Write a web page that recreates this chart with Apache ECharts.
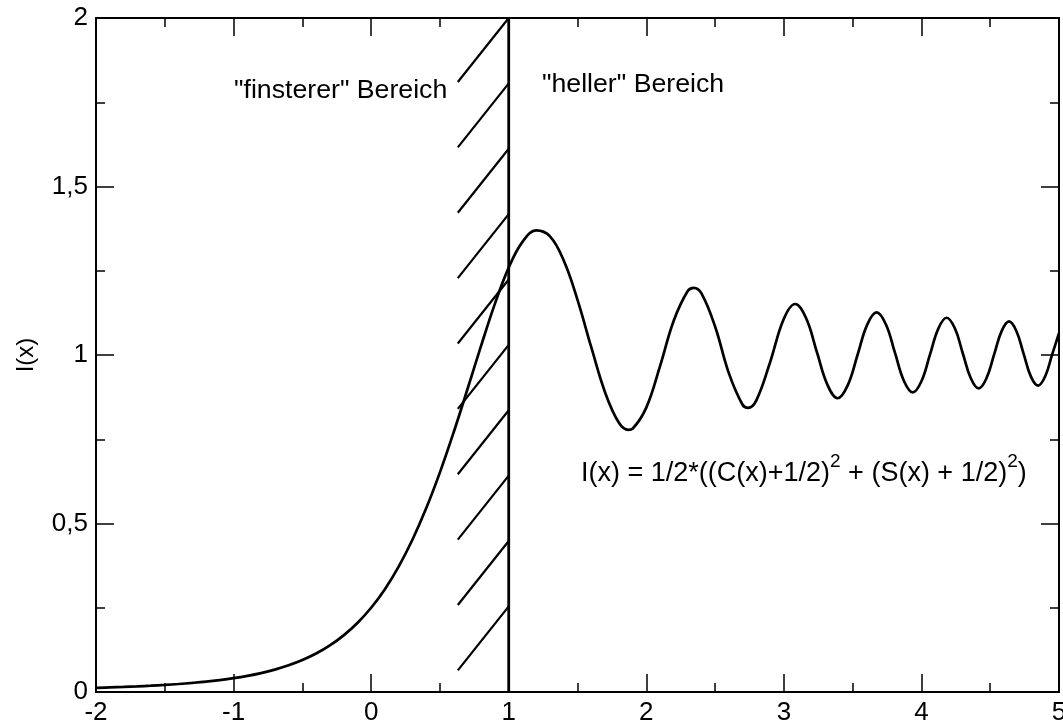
<!DOCTYPE html>
<html>
<head>
<meta charset="utf-8">
<script src="https://cdn.jsdelivr.net/npm/echarts@6/dist/echarts.min.js"></script>
<style>
  html, body { margin: 0; padding: 0; background: #fff; }
  #chart { width: 1063px; height: 725px; }
</style>
</head>
<body>
<div id="chart"></div>
<script>
  // Intensitaet I(x)
  const xValues = [
    -2.0, -1.9, -1.8, -1.7, -1.6, -1.5, -1.4, -1.3, -1.2, -1.1,
    -1.0, -0.9, -0.8, -0.7, -0.6, -0.5, -0.4, -0.3, -0.2, -0.1,
    0.0, 0.1, 0.2, 0.3, 0.4, 0.5, 0.6, 0.7, 0.8, 0.9,
    1.0, 1.1, 1.2, 1.3, 1.4, 1.5, 1.6, 1.7, 1.8, 1.87, 1.9,
    2.0, 2.1, 2.2, 2.3, 2.345, 2.4, 2.5, 2.6, 2.7, 2.74, 2.8, 2.9,
    3.0, 3.082, 3.162, 3.240, 3.317, 3.391, 3.464, 3.536, 3.606, 3.674,
    3.742, 3.808, 3.873, 3.937, 4.0, 4.062, 4.123, 4.183, 4.243, 4.301,
    4.359, 4.416, 4.472, 4.528, 4.583, 4.637, 4.690, 4.743, 4.796, 4.848,
    4.899, 4.950, 5.0
  ];
  const intensity = [
    0.0123, 0.0136, 0.0150, 0.0167, 0.0187, 0.0210, 0.0237, 0.0270, 0.0308, 0.0355,
    0.0411, 0.0479, 0.0562, 0.0665, 0.0791, 0.0948, 0.1141, 0.1382, 0.1680, 0.2048,
    0.25, 0.3052, 0.3721, 0.4517, 0.5450, 0.6518, 0.7708, 0.8983, 1.0283, 1.1525,
    1.2593, 1.3358, 1.3696, 1.3519, 1.2803, 1.1638, 1.0231, 0.8897, 0.7996, 0.7781, 0.7813,
    0.8439, 0.9671, 1.1023, 1.1892, 1.1993, 1.1834, 1.0846, 0.9463, 0.8523, 0.8432, 0.8654, 0.9786,
    1.1077, 1.1514, 1.1089, 1.0090, 0.9114, 0.8717, 0.9099, 1.0008, 1.0900, 1.1263,
    1.0906, 1.0061, 0.9229, 0.8889, 0.9220, 1.0009, 1.0787, 1.1105, 1.0792, 1.0045,
    0.9309, 0.9007, 0.9302, 1.0009, 1.0708, 1.0995, 1.0712, 1.0036, 0.9358, 0.9093,
    0.9363, 1.0009, 1.0649
  ];

  // Kante bei x = 1 und Schraffur links davon
  const edgeX = 1;
  const hatchLeftX = 0.63;
  const hatchRise = 0.19;
  const hatchTopY = [2.0, 1.806, 1.612, 1.418, 1.224, 1.03, 0.836, 0.642, 0.448, 0.254];

  const xTicks = [-2, -1, 0, 1, 2, 3, 4, 5];
  const yTicks = [0, 0.5, 1, 1.5, 2];

  const font = "'Liberation Sans', Arial, sans-serif";
  const black = '#000';

  let chartDom = document.getElementById('chart');
  let myChart = echarts.init(chartDom);

  function axisBase(extra) {
    return Object.assign({
      type: 'value',
      axisLine: { show: true, onZero: false, lineStyle: { color: black, width: 2 } },
      axisTick: { show: true, inside: true, length: 18, lineStyle: { color: black, width: 1.5 } },
      minorTick: { show: true, splitNumber: 2, length: 9, lineStyle: { color: black, width: 1.5 } },
      splitLine: { show: false }
    }, extra);
  }

  let curve = xValues.map((x, i) => [x, intensity[i]]);

  let hatchSeries = hatchTopY.map(y => ({
    type: 'line',
    data: [[hatchLeftX, y - hatchRise], [edgeX, y]],
    showSymbol: false,
    silent: true,
    lineStyle: { color: black, width: 2.2 },
    z: 2
  }));

  let option = {
    animation: false,
    backgroundColor: '#fff',
    grid: { left: 96, right: 4, top: 18, bottom: 33, outerBoundsMode: 'none' },
    xAxis: [
      axisBase({
        min: xTicks[0], max: xTicks[xTicks.length - 1], interval: 1,
        position: 'bottom',
        axisLabel: { color: black, fontSize: 26, fontFamily: font, margin: 8 }
      }),
      axisBase({
        min: xTicks[0], max: xTicks[xTicks.length - 1], interval: 1,
        position: 'top',
        axisLabel: { show: false }
      })
    ],
    yAxis: [
      axisBase({
        min: yTicks[0], max: yTicks[yTicks.length - 1], interval: 0.5,
        position: 'left',
        name: 'I(x)',
        nameLocation: 'middle',
        nameGap: 58,
        nameTextStyle: { color: black, fontSize: 24, fontFamily: font },
        axisLabel: {
          color: black, fontSize: 26, fontFamily: font, margin: 8,
          formatter: v => String(v).replace('.', ',')
        }
      }),
      axisBase({
        min: yTicks[0], max: yTicks[yTicks.length - 1], interval: 0.5,
        position: 'right',
        axisLabel: { show: false }
      })
    ],
    series: [
      {
        type: 'line',
        data: curve,
        smooth: 0.4,
        showSymbol: false,
        silent: true,
        lineStyle: { color: black, width: 2.7 },
        z: 3
      },
      {
        type: 'line',
        data: [[edgeX, yTicks[0]], [edgeX, yTicks[yTicks.length - 1]]],
        showSymbol: false,
        silent: true,
        lineStyle: { color: black, width: 2.8 },
        z: 4
      }
    ].concat(hatchSeries),
    graphic: [
      {
        type: 'text', x: 234, y: 91,
        style: { text: '"finsterer" Bereich', fill: black, fontSize: 26.7, fontFamily: font, verticalAlign: 'middle' }
      },
      {
        type: 'text', x: 542, y: 85,
        style: { text: '"heller" Bereich', fill: black, fontSize: 26.7, fontFamily: font, verticalAlign: 'middle' }
      },
      {
        type: 'text', x: 581, y: 474,
        style: {
          text: '{m|I(x) = 1/2*((C(x)+1/2)}{s|2}{m| + (S(x) + 1/2)}{s|2}{m|)}',
          fill: black, fontFamily: font, verticalAlign: 'middle',
          rich: {
            m: { fontSize: 27, fontFamily: font, fill: black },
            s: { fontSize: 19, fontFamily: font, fill: black, padding: [0, 0, 24, 0] }
          }
        }
      }
    ]
  };

  option && myChart.setOption(option);
</script>
</body>
</html>
